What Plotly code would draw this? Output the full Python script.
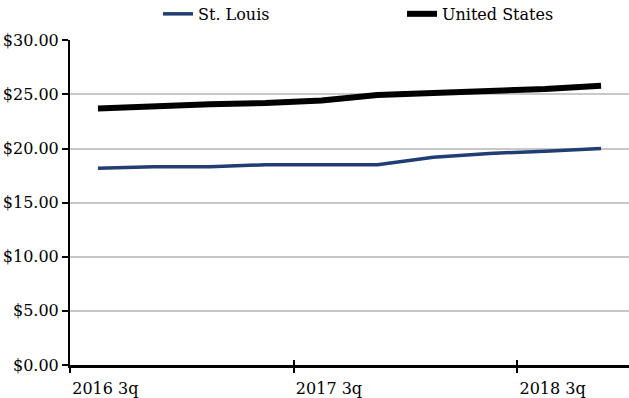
import plotly.graph_objects as go

# Quarterly median hourly wage, St. Louis vs. United States
quarters = ["2016 3q", "2016 4q", "2017 1q", "2017 2q", "2017 3q",
            "2017 4q", "2018 1q", "2018 2q", "2018 3q", "2018 4q"]
st_louis = [18.17, 18.33, 18.33, 18.5, 18.5, 18.5, 19.2, 19.55, 19.75, 20.0]
united_states = [23.7, 23.95, 24.1, 24.2, 24.45, 24.95, 25.1, 25.3, 25.5, 25.8]
tick_labels = ["2016 3q", "2017 3q", "2018 3q"]
y_ticks = [0, 5, 10, 15, 20, 25, 30]

x_pos = list(range(len(quarters)))
# ticks sit on the left boundary of each labelled quarter
tick_pos = [quarters.index(t) - 0.5 for t in tick_labels]
y_text = ["$%.2f" % v for v in y_ticks]

FONT = "DejaVu Serif"
W, H = 629, 398

fig = go.Figure()
fig.add_trace(go.Scatter(
    x=x_pos, y=st_louis, name="St. Louis", mode="lines", legend="legend",
    line=dict(color="#213d73", width=3.5),
    customdata=quarters, hovertemplate="%{customdata}: %{y:.2f}<extra>St. Louis</extra>",
))
fig.add_trace(go.Scatter(
    x=x_pos, y=united_states, name="United States", mode="lines", legend="legend2",
    line=dict(color="#000000", width=6),
    customdata=quarters, hovertemplate="%{customdata}: %{y:.2f}<extra>United States</extra>",
))
# overlay axis used only for the upward half of the crossing tick marks
fig.add_trace(go.Scatter(x=[None], y=[None], xaxis="x2", showlegend=False, hoverinfo="skip"))

legend_style = dict(
    orientation="h", xanchor="left", xref="container",
    y=0.965, yanchor="middle", yref="container",
    font=dict(family=FONT, size=16), bgcolor="rgba(0,0,0,0)",
    itemclick=False, itemdoubleclick=False,
)

fig.update_layout(
    width=W, height=H,
    margin=dict(l=70, r=0, t=36, b=33),
    paper_bgcolor="white", plot_bgcolor="white",
    font=dict(family=FONT, size=16, color="black"),
    showlegend=True,
    legend=dict(x=158 / W, **legend_style),
    legend2=dict(x=402 / W, **legend_style),
    xaxis=dict(
        range=[-0.5, len(quarters) - 0.5],
        tickmode="array", tickvals=tick_pos, ticktext=tick_labels,
        ticks="outside", ticklen=5, tickwidth=2, tickcolor="black",
        ticklabelposition="outside right", ticklabelstandoff=7,
        showline=True, linecolor="black", linewidth=2.5,
        showgrid=False, zeroline=False, fixedrange=True,
    ),
    xaxis2=dict(
        overlaying="x", matches="x", anchor="y", side="bottom",
        tickmode="array", tickvals=tick_pos,
        ticks="inside", ticklen=5, tickwidth=2, tickcolor="black",
        showticklabels=False, showline=False, showgrid=False, zeroline=False,
    ),
    yaxis=dict(
        range=[0, 30], tickmode="array", tickvals=y_ticks, ticktext=y_text,
        ticks="outside", ticklen=6, tickwidth=2, tickcolor="black",
        showline=True, linecolor="black", linewidth=2,
        showgrid=True, gridcolor="#c8c8c8", gridwidth=2,
        zeroline=False, fixedrange=True,
    ),
)

fig.write_html("out.html")
